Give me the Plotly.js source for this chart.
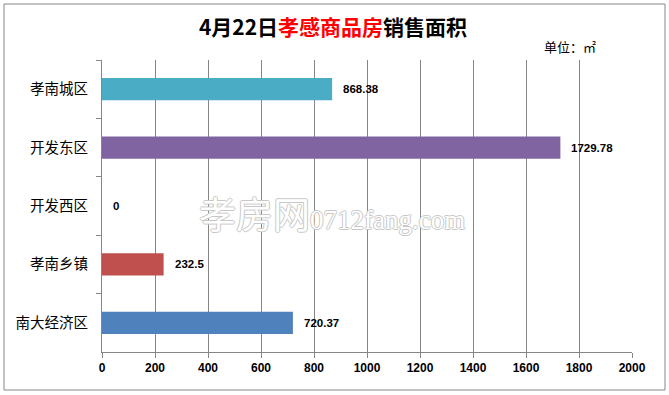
<!DOCTYPE html>
<html><head><meta charset="utf-8">
<script src="https://cdn.plot.ly/plotly-3.0.1.min.js"></script>
<style>body{margin:0;background:#fff;}#c{width:669px;height:395px;}</style>
</head><body><div id="c"></div>
<script>
const categories = ["孝南城区", "开发东区", "开发西区", "孝南乡镇", "南大经济区"];
const values = [868.38, 1729.78, 0, 232.5, 720.37];
const labels = ["868.38", "1729.78", "0", "232.5", "720.37"];
const colors = ["#4BACC6", "#8064A2", "#C0504D", "#C0504D", "#4F81BD"];
const xTicks = [0, 200, 400, 600, 800, 1000, 1200, 1400, 1600, 1800, 2000];

const L = 102, R = 632, T = 60, B = 352;
const px = x => (x - L) / (R - L);
const py = y => (B - y) / (B - T);

const cjk = "'Noto Sans CJK SC', 'Noto Sans', sans-serif";
const num = "'Liberation Sans Narrow', 'Liberation Sans', sans-serif";
const trace = {
  type: "bar", orientation: "h",
  y: categories, x: values,
  marker: {color: colors},
  width: 0.38,
  hoverinfo: "none"
};
const valueAnnotations = categories.map((c, i) => ({
  x: values[i], y: c, xref: "x", yref: "y", text: labels[i],
  xanchor: "left", yanchor: "middle", xshift: 9, showarrow: false,
  font: {family: num, size: 11.5, color: "#000", weight: "bold"}
}));
const shapes = [
  {type: "rect", xref: "paper", yref: "paper", x0: px(4), x1: px(665), y0: py(390), y1: py(4),
   line: {color: "#868686", width: 1}, fillcolor: "rgba(0,0,0,0)", layer: "below"}
];
const layout = {
  width: 669, height: 395,
  margin: {l: L, r: 669 - R, t: T, b: 395 - B, pad: 0},
  paper_bgcolor: "#fff", plot_bgcolor: "#fff",
  showlegend: false,
  title: {text: "4月22日<span style='color:#FF0000'>孝感商品房</span>销售面积",
          font: {family: cjk, size: 21, color: "#000", weight: "bold"},
          x: 333/669, xanchor: "center", y: 1 - 28/395, yanchor: "middle", xref: "container", yref: "container"},
  xaxis: {range: [0, 2000], tickvals: xTicks, ticktext: xTicks.map(String),
          showgrid: true, gridcolor: "#868686", gridwidth: 1,
          showline: true, linecolor: "#868686", linewidth: 1,
          ticks: "outside", ticklen: 5, tickcolor: "#868686",
          zeroline: false, fixedrange: true,
          tickfont: {family: num, size: 12, color: "#000", weight: "bold"}},
  yaxis: {type: "category", autorange: "reversed",
          showline: true, linecolor: "#868686", linewidth: 1,
          ticks: "outside", ticklen: 5, tickcolor: "#868686", tickson: "boundaries",
          showgrid: false, zeroline: false, ticklabelstandoff: 10,
          tickfont: {family: cjk, size: 14.5, color: "#000"}},
  shapes: shapes,
  annotations: valueAnnotations.concat([
    {text: "单位：㎡", xref: "paper", yref: "paper", x: px(570), y: py(47), xanchor: "center", yanchor: "middle",
     showarrow: false, font: {family: cjk, size: 13, color: "#000"}},
    {text: "孝房网<span style='font-family:Liberation Serif;font-size:27px'>0712fang.com</span>", xref: "paper", yref: "paper", x: px(332), y: py(213),
     xanchor: "center", yanchor: "middle", showarrow: false,
     font: {family: cjk, size: 37, color: "#ffffff",
            shadow: "1px 0 #c8c8c8, -1px 0 #c8c8c8, 0 1px #c8c8c8, 0 -1px #c8c8c8"}}
  ])
};
Plotly.newPlot("c", [trace], layout, {staticPlot: true});
</script></body></html>
